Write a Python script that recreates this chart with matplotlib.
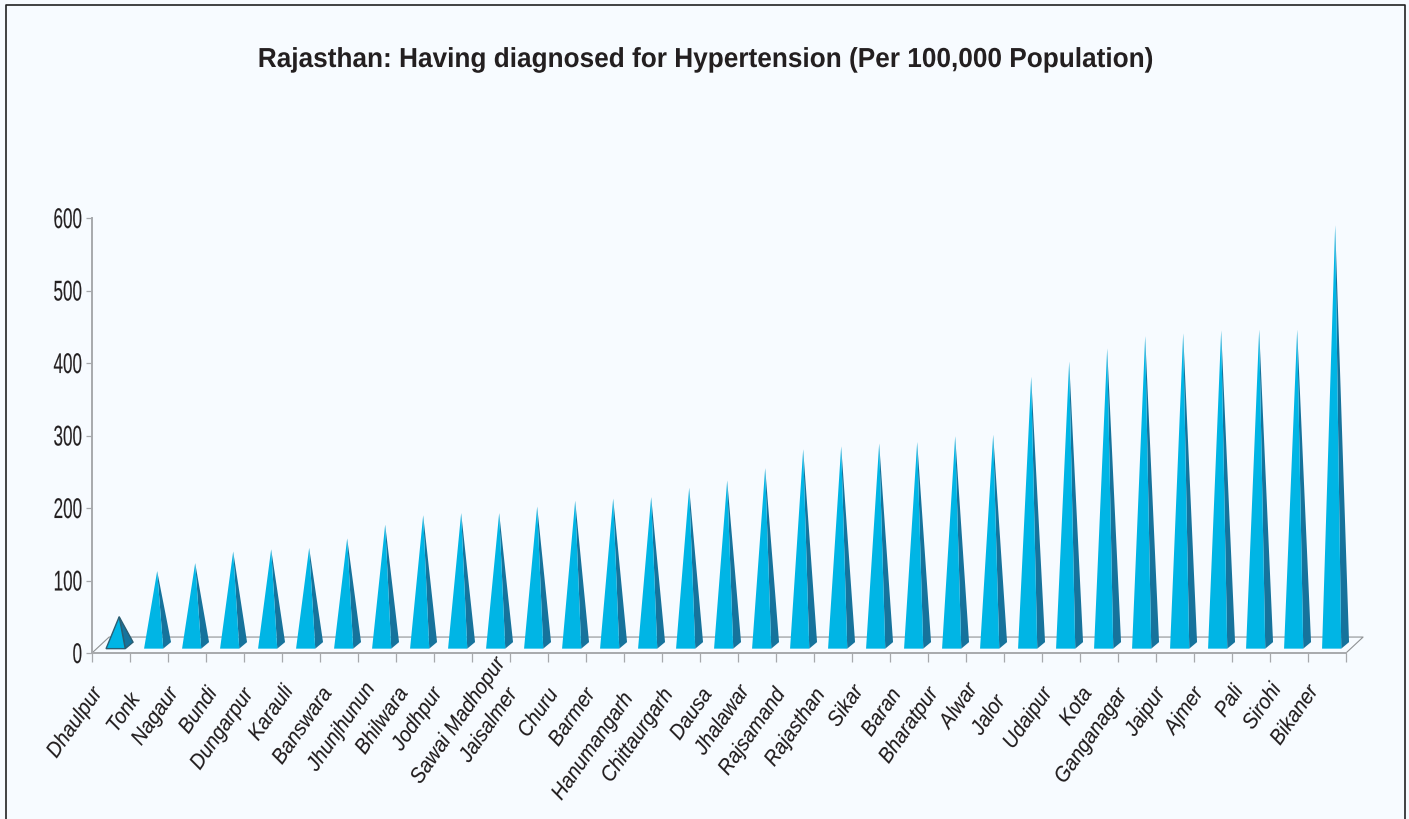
#!/usr/bin/env python3
"""Rajasthan hypertension chart drawn as pseudo-3D pyramids."""

import matplotlib
matplotlib.use("Agg")
import matplotlib.pyplot as plt
from matplotlib.patches import Polygon
from matplotlib.patheffects import AbstractPathEffect
from matplotlib.transforms import Affine2D

districts = [
    "Dhaulpur", "Tonk", "Nagaur", "Bundi", "Dungarpur", "Karauli", "Banswara",
    "Jhunjhunun", "Bhilwara", "Jodhpur", "Sawai Madhopur", "Jaisalmer", "Churu",
    "Barmer", "Hanumangarh", "Chittaurgarh", "Dausa", "Jhalawar", "Rajsamand",
    "Rajasthan", "Sikar", "Baran", "Bharatpur", "Alwar", "Jalor", "Udaipur",
    "Kota", "Ganganagar", "Jaipur", "Ajmer", "Pali", "Sirohi", "Bikaner",
]
values = [
    50, 113, 124, 140, 143, 145, 158, 177, 190, 193, 193, 202, 210, 213, 215,
    228, 238, 255, 281, 285, 289, 291, 299, 301, 381, 402, 420, 437, 441, 445,
    446, 446, 590,
]
y_ticks = [0, 100, 200, 300, 400, 500, 600]

# where each rotated label ends, in image pixels
label_end_x = [
    102, 140, 178, 217, 253, 293, 332, 375, 408, 442, 505, 517, 558, 595, 633,
    673, 712, 749, 785, 825, 863, 901, 938, 977, 1005, 1052, 1092, 1127, 1165,
    1203, 1243, 1281, 1318,
]
label_end_y = [
    687, 693, 687, 687, 688, 685, 687, 682, 687, 687, 657, 688, 688, 688, 692,
    688, 688, 685, 688, 688, 685, 688, 687, 683, 695, 687, 687, 688, 687, 687,
    685, 683, 685,
]

W, H = 1409, 820
BG = "#F7FBFF"
FRONT = "#00B5E5"
SIDE = "#16739C"
GREY = "#A7A9AC"
INK = "#231F20"


class Squeeze(AbstractPathEffect):
    """Narrow the glyphs along the text direction, no condensed font here."""

    def __init__(self, sx, anchor="right", stroke=0.0):
        super().__init__()
        self.sx = sx
        self.anchor = anchor
        self.stroke = stroke

    def draw_path(self, renderer, gc, tpath, affine, rgbFace=None):
        ext = tpath.get_extents()
        x0 = ext.x1 if self.anchor == "right" else (ext.x0 + ext.x1) / 2
        squeeze = Affine2D().translate(-x0, 0).scale(self.sx, 1).translate(x0, 0)
        gc0 = renderer.new_gc()
        gc0.copy_properties(gc)
        gc0.set_linewidth(self.stroke)
        gc0.set_foreground(rgbFace)
        renderer.draw_path(gc0, tpath, squeeze + affine, rgbFace)
        gc0.restore()


plt.rcParams["font.family"] = "Liberation Sans"

fig = plt.figure(figsize=(W / 100, H / 100), dpi=100, facecolor=BG)

# axes box runs from the category origin to the 600 tick
ax = fig.add_axes([92 / W, 1 - 654 / H, (1346 - 92) / W, (654 - 219) / H])
ax.set_xlim(0, len(districts))
ax.set_ylim(0, 600)
ax.patch.set_alpha(0)
for s in ["top", "right"]:
    ax.spines[s].set_visible(False)
for s in ["left", "bottom"]:
    ax.spines[s].set_color(GREY)
    ax.spines[s].set_linewidth(1.4)

# floor
floor_dx, floor_dy = 0.45, 22
ax.plot([0, floor_dx, len(districts) + floor_dx, len(districts)],
        [0, floor_dy, floor_dy, 0],
        color="#8F9294", lw=0.8, clip_on=False, zorder=1)

for i, v in enumerate(values):
    left, right, back, apex = i + 0.37, i + 0.875, i + 1.08, i + 0.715
    base, back_y = 6, 15
    edge = "#2B5E73" if i == 0 else "none"
    lw = 1.0 if i == 0 else 0
    ax.add_patch(Polygon([(right, base), (back, back_y), (apex, v)],
                         closed=True, fc=SIDE, ec=edge, lw=lw, clip_on=False, zorder=3))
    ax.add_patch(Polygon([(left, base), (right, base), (apex, v)],
                         closed=True, fc=FRONT, ec=edge, lw=lw, clip_on=False, zorder=4))

ax.set_xticks(range(len(districts) + 1))
ax.set_xticklabels([])
ax.set_yticks(y_ticks)
ax.tick_params(axis="x", length=6.5, width=0.9, color=GREY)
ax.tick_params(axis="y", length=4.3, width=0.9, color=GREY, labelsize=20.5, pad=2.5,
               labelcolor=INK)
ax.get_xticklines()[-2].set_color("#555555")
for lab in ax.get_yticklabels():
    lab.set_path_effects([Squeeze(0.6, stroke=0.08)])

for name, ex, ey in zip(districts, label_end_x, label_end_y):
    fig.text((ex - 4) / W, 1 - (ey + 4) / H, name, rotation=55, rotation_mode="anchor",
             ha="right", va="center", style="italic", fontsize=15.5, color=INK,
             path_effects=[Squeeze(0.92, stroke=0.08)])

fig.text(706 / W, 1 - 61 / H, "Rajasthan: Having diagnosed for Hypertension (Per 100,000 Population)",
         ha="center", va="center", weight="bold", fontsize=19.8, color=INK,
         path_effects=[Squeeze(0.953, "center")])

# frame: left, top and right edges only
fig.add_artist(plt.Line2D([5.5 / W, 5.5 / W, 1404.5 / W, 1404.5 / W],
                          [0, 1 - 6 / H, 1 - 6 / H, 0],
                          color="#222222", lw=1.2, transform=fig.transFigure))

fig.savefig("out.png", dpi=100, facecolor=BG)
